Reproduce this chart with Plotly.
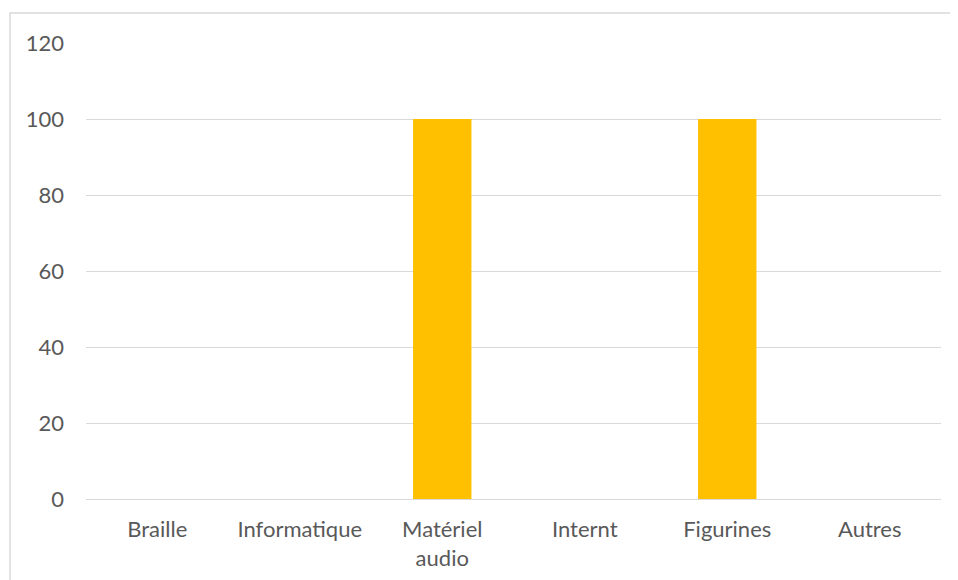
import plotly.graph_objects as go

categories = ["Braille", "Informatique", "Matériel<br>audio", "Internt", "Figurines", "Autres"]
values = [0, 0, 100, 0, 100, 0]
y_ticks = [0, 20, 40, 60, 80, 100, 120]

OFF = 8  # page body offset
W, H = 958 - OFF, 580 - OFF
L, R, T, B = 86 - OFF, 17, 43 - OFF, 81
pw, ph = W - L - R, H - T - B

fig = go.Figure(go.Bar(x=categories, y=values, marker_color="#FFC000", marker_line_width=0, width=0.41))

fig.update_layout(
    width=W, height=H,
    margin=dict(l=L, r=R, t=T, b=B),
    plot_bgcolor="white", paper_bgcolor="white",
    font=dict(family="Lato, Open Sans, sans-serif", size=22, color="#595959"),
    showlegend=False,
    xaxis=dict(showgrid=False, showline=False, zeroline=False, ticks="", ticklabelstandoff=15, tickangle=0,
               automargin=False),
    yaxis=dict(range=[0, 120], tickvals=y_ticks, showgrid=True, gridcolor="#d9d9d9", gridwidth=1,
               zeroline=True, zerolinecolor="#d9d9d9", zerolinewidth=1, showline=False, ticks="",
               ticklabelstandoff=21, automargin=False),
    shapes=[dict(type="rect", xref="paper", yref="paper",
                 x0=(10 - 86) / pw, x1=(957 - 86) / pw,
                 y0=-(585 - 43 - ph) / ph, y1=1 + (43 - 13) / ph,
                 line=dict(color="#d9d9d9", width=1.5), fillcolor="rgba(0,0,0,0)", layer="below")],
)

fig.write_html("out.html")
